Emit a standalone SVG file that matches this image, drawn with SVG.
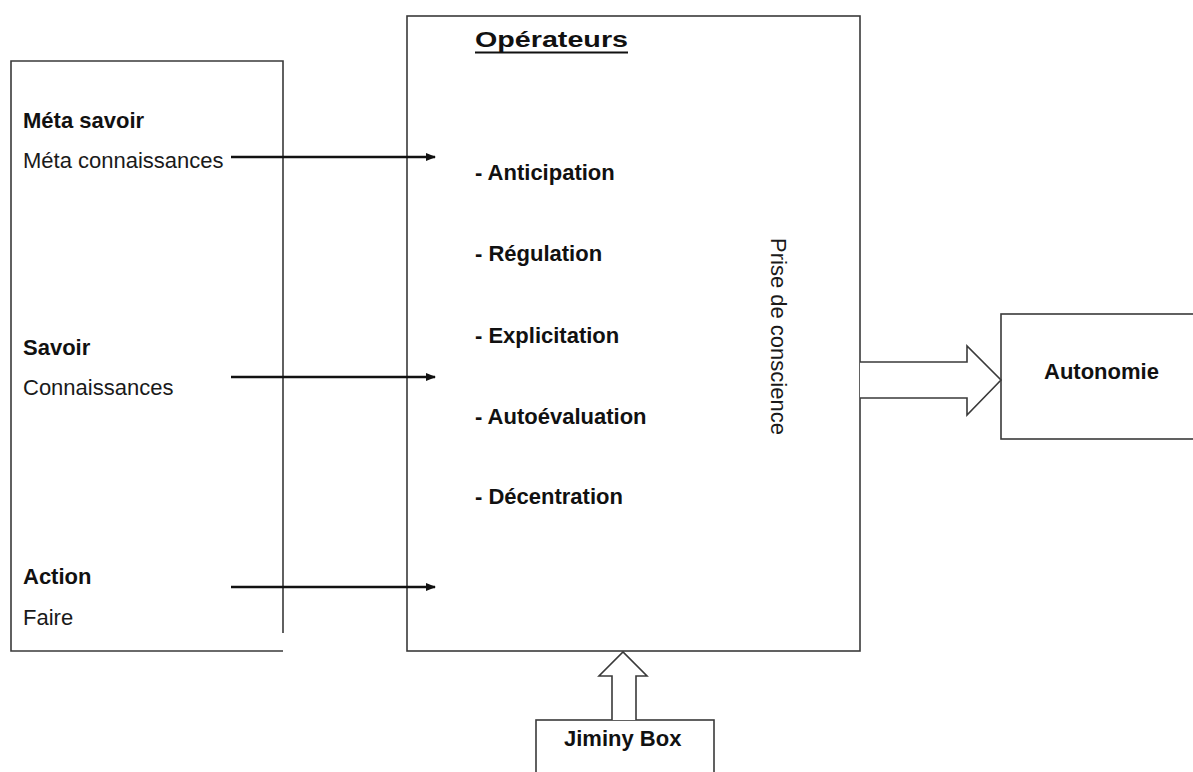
<svg xmlns="http://www.w3.org/2000/svg" width="1193" height="772" viewBox="0 0 1193 772">
<defs>
<style>
.box{fill:none;stroke:#3a3a3a;stroke-width:1.6}
.t{font-family:"Liberation Sans",Arial,sans-serif;font-size:22px;fill:#1a1a1a}
.b{font-weight:bold;fill:#111}
.conn{stroke:#111;stroke-width:2.6;fill:none}
.big{fill:#fff;stroke:#3a3a3a;stroke-width:1.6;stroke-linejoin:miter}
</style>
<marker id="ah" markerWidth="10" markerHeight="8" refX="9" refY="4" orient="auto" markerUnits="userSpaceOnUse">
<path d="M0,0 L10,4 L0,8 Z" fill="#111"/>
</marker>
</defs>
<rect width="1193" height="772" fill="#fff"/>
<g id="sources">
<path class="box" d="M283,633 V61 H11 V651 H283"/>
<text class="t b" x="23" y="128">Méta savoir</text>
<text class="t" x="23" y="168">Méta connaissances</text>
<text class="t b" x="23" y="355">Savoir</text>
<text class="t" x="23" y="395">Connaissances</text>
<text class="t b" x="23" y="584">Action</text>
<text class="t" x="23" y="625">Faire</text>
</g>
<g id="operateurs">
<rect class="box" x="407" y="16" width="453" height="635"/>
<text class="t b" x="475" y="47" font-size="28.5" textLength="153" lengthAdjust="spacingAndGlyphs">Opérateurs</text>
<line x1="475" y1="52.5" x2="628" y2="52.5" stroke="#111" stroke-width="2.2"/>
<text class="t b" x="475" y="180">- Anticipation</text>
<text class="t b" x="475" y="261">- Régulation</text>
<text class="t b" x="475" y="343">- Explicitation</text>
<text class="t b" x="475" y="424">- Autoévaluation</text>
<text class="t b" x="475" y="504">- Décentration</text>
<text class="t" transform="translate(771,238) rotate(90)">Prise de conscience</text>
</g>
<g id="autonomie">
<rect class="box" x="1001" y="314" width="200" height="125"/>
<text class="t b" x="1044" y="379">Autonomie</text>
</g>
<g id="jiminy">
<rect class="box" x="536" y="720" width="178" height="60"/>
<text class="t b" x="564" y="746">Jiminy Box</text>
</g>
<g id="connectors">
<line class="conn" x1="231" y1="157" x2="435" y2="157" marker-end="url(#ah)"/>
<line class="conn" x1="231" y1="377" x2="435" y2="377" marker-end="url(#ah)"/>
<line class="conn" x1="231" y1="587" x2="435" y2="587" marker-end="url(#ah)"/>
<path class="big" d="M860,362 H967 V346 L1001,380 L967,415 V398 H860"/>
<path class="big" d="M612,720 V676 H599 L623,652 L647,676 H636 V720"/>
</g>
</svg>
